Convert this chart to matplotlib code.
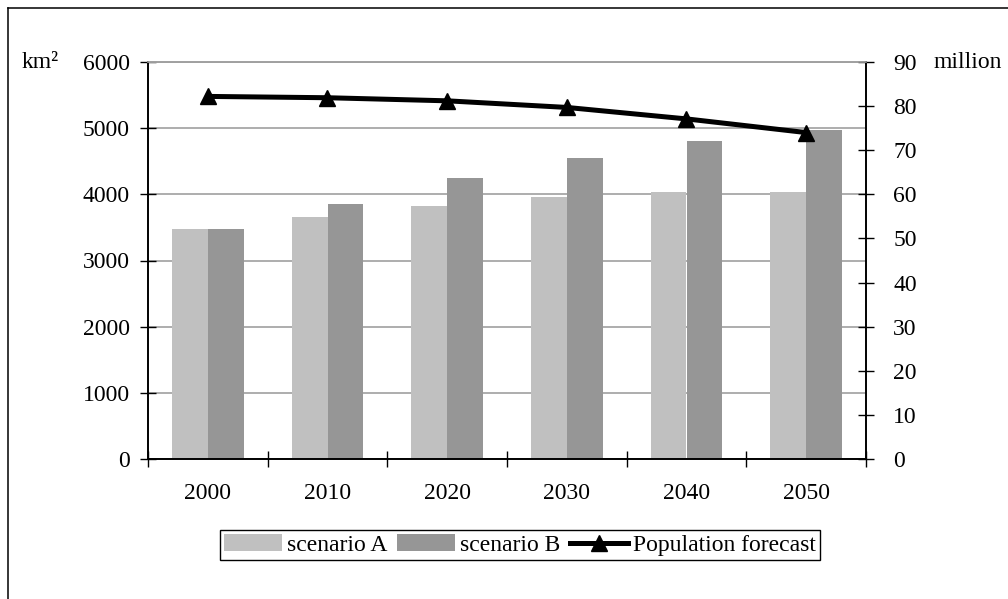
import matplotlib
matplotlib.use("Agg")
import matplotlib.pyplot as plt
import numpy as np
from matplotlib.lines import Line2D
from matplotlib.patches import Patch

years = ["2000", "2010", "2020", "2030", "2040", "2050"]
scenario_a = [3470, 3660, 3830, 3960, 4030, 4040]
scenario_b = [3470, 3860, 4240, 4550, 4800, 4970]
population = [82.2, 81.9, 81.2, 79.7, 77.1, 74.0]
left_ticks = [0, 1000, 2000, 3000, 4000, 5000, 6000]
right_ticks = [0, 10, 20, 30, 40, 50, 60, 70, 80, 90]

plt.rcParams['font.family'] = ['Liberation Serif', 'DejaVu Serif']
FS = 17

W, H = 1008, 599
fig = plt.figure(figsize=(W / 100, H / 100), dpi=100)
ax = fig.add_axes([148 / W, 1 - 459 / H, (866 - 148) / W, (459 - 62) / H])
ax2 = ax.twinx()

x = np.arange(len(years))
bw = 0.30
ax.bar(x - bw / 2, scenario_a, bw, color='#c0c0c0', zorder=2)
ax.bar(x + bw / 2, scenario_b, bw, color='#969696', zorder=2)

ax.set_xlim(-0.5, len(years) - 0.5)
ax.set_ylim(0, 6000)
ax.set_yticks(left_ticks)
ax.set_yticklabels([str(v) for v in left_ticks], fontsize=FS)
ax.yaxis.grid(True, color='#a0a0a0', linewidth=1.2, zorder=0)
ax.set_axisbelow(True)

ax.set_xticks(np.arange(-0.5, len(years), 1.0))
ax.set_xticklabels([])
ax.set_xticks(x, minor=True)
ax.set_xticklabels(years, minor=True, fontsize=FS)
ax.tick_params(axis='x', which='major', direction='inout', length=11, width=1, color='black')
ax.tick_params(axis='x', which='minor', length=0, pad=17.5)
ax.tick_params(axis='y', direction='inout', length=11, width=1, pad=7.5)

ax2.plot(x, population, color='black', linewidth=3.6, marker='^', markersize=11,
         zorder=5, clip_on=False)
ax2.set_ylim(0, 90)
ax2.set_yticks(right_ticks)
ax2.set_yticklabels([str(v) for v in right_ticks], fontsize=FS)
ax2.tick_params(axis='y', direction='inout', length=11, width=1, pad=14)

for a in (ax, ax2):
    a.spines['top'].set_color('#a0a0a0')
    a.spines['top'].set_linewidth(1.2)
    for s in ('left', 'right', 'bottom'):
        a.spines[s].set_color('black')
        a.spines[s].set_linewidth(1.2)

fig.text(22 / W, 1 - 62 / H, "km²", fontsize=FS, ha='left', va='center')
fig.text(934 / W, 1 - 62 / H, "million", fontsize=FS, ha='left', va='center')

handles = [Patch(facecolor='#c0c0c0', edgecolor='none'),
           Patch(facecolor='#969696', edgecolor='none'),
           Line2D([0], [0], color='black', linewidth=3.6, marker='^', markersize=11)]
labels = ["scenario A", "scenario B", "Population forecast"]
leg = fig.legend(handles, labels, loc='center', bbox_to_anchor=(520 / W, 1 - 545 / H),
                 ncol=3, fontsize=FS, frameon=True, fancybox=False, framealpha=1,
                 edgecolor='black', handlelength=2.45, handleheight=0.7,
                 handletextpad=0.2, columnspacing=0.42, borderpad=0.2,
                 borderaxespad=0)
leg.get_frame().set_linewidth(1.0)

# outer frame (left and top edges)
fig.add_artist(Line2D([8 / W, 8 / W], [0, 1 - 8 / H], color='black', linewidth=1.1,
                      transform=fig.transFigure))
fig.add_artist(Line2D([8 / W, 1], [1 - 8 / H, 1 - 8 / H], color='black', linewidth=1.1,
                      transform=fig.transFigure))

fig.savefig("out.png", dpi=100)
